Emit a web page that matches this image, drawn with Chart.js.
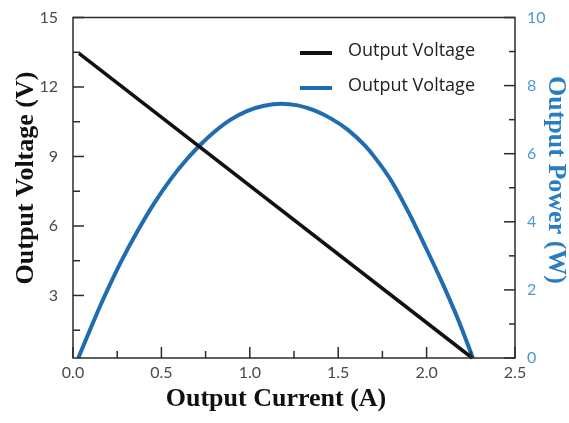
<!DOCTYPE html>
<html>
<head>
<meta charset="utf-8">
<script src="https://cdn.jsdelivr.net/npm/chart.js@4.4.1/dist/chart.umd.min.js"></script>
<style>
    html, body { margin: 0; padding: 0; background: #fff; }
    #wrap { width: 569px; height: 423px; }
</style>
</head>
<body>
<div id="wrap"><canvas id="ivChart" width="569" height="423"></canvas></div>
<script>
// Output voltage trace (black, left axis)
const voltageCurrent = [0.034, 2.258];
const voltageValues = [13.45, 0.3];

// Output power trace (blue, right axis)
const powerCurrent = [0.03, 0.097, 0.172, 0.267, 0.362, 0.456, 0.551, 0.646, 0.722, 0.797, 0.892, 0.987, 1.081, 1.176,
                      1.271, 1.365, 1.460, 1.555, 1.649, 1.706, 1.801, 1.896, 1.990, 2.085, 2.180, 2.262];
const powerValues = [0, 0.84, 1.74, 2.78, 3.70, 4.52, 5.24, 5.85, 6.27, 6.63, 7.00, 7.26, 7.41, 7.47,
                     7.42, 7.27, 7.03, 6.70, 6.25, 5.90, 5.20, 4.30, 3.30, 2.25, 1.11, 0];

// Tick labels and minor tick positions
const xTicks = [0, 0.5, 1.0, 1.5, 2.0, 2.5];
const xMinor = [0.25, 0.75, 1.25, 1.75, 2.25];
const leftTicks = [3, 6, 9, 12, 15];
const leftMinor = [1.5, 4.5, 7.5, 10.5, 13.5];
const rightTicks = [0, 2, 4, 6, 8, 10];
const rightMinor = [1, 3, 5, 7, 9];

const BLUE = '#1f6db0';
const LABEL_BLUE = '#4b9bd1';
const TICK_GREY = '#4a4a4a';

/**
 * Box around the plot with inward tick marks
 */
const frameTicks = {
    id: 'frameTicks',
    afterDatasetsDraw(chart) {
        const { ctx, chartArea: a, scales } = chart;
        ctx.save();
        ctx.strokeStyle = '#2b2b2b';
        ctx.lineWidth = 1.5;
        ctx.strokeRect(a.left, a.top, a.right - a.left, a.bottom - a.top);

        const mark = (x1, y1, x2, y2) => {
            ctx.beginPath();
            ctx.moveTo(x1, y1);
            ctx.lineTo(x2, y2);
            ctx.stroke();
        };
        xTicks.forEach(v => { const p = scales.x.getPixelForValue(v); mark(p, a.bottom, p, a.bottom - 11); });
        xMinor.forEach(v => { const p = scales.x.getPixelForValue(v); mark(p, a.bottom, p, a.bottom - 7); });
        leftTicks.forEach(v => { const p = scales.y.getPixelForValue(v); mark(a.left, p, a.left + 11, p); });
        leftMinor.forEach(v => { const p = scales.y.getPixelForValue(v); mark(a.left, p, a.left + 7, p); });
        rightTicks.forEach(v => { const p = scales.y1.getPixelForValue(v); mark(a.right, p, a.right - 11, p); });
        rightMinor.forEach(v => { const p = scales.y1.getPixelForValue(v); mark(a.right, p, a.right - 6, p); });
        ctx.restore();
    }
};

/**
 * In-plot legend, top right
 */
const insideLegend = {
    id: 'insideLegend',
    afterDraw(chart) {
        const { ctx, chartArea: a } = chart;
        ctx.save();
        ctx.font = '18px "Open Sans"';
        ctx.textBaseline = 'middle';
        chart.data.datasets.forEach((ds, i) => {
            const y = a.top + 35.5 + i * 35;
            ctx.strokeStyle = ds.borderColor;
            ctx.lineWidth = 4;
            ctx.beginPath();
            ctx.moveTo(a.right - 215, y);
            ctx.lineTo(a.right - 183, y);
            ctx.stroke();
            ctx.fillStyle = '#222';
            ctx.fillText(ds.label, a.right - 167, y - 2);
        });
        ctx.restore();
    }
};

/**
 * Axis titles (bold serif)
 */
const axisTitles = {
    id: 'axisTitles',
    afterDraw(chart) {
        const { ctx } = chart;
        ctx.save();
        ctx.font = 'bold 26px "Liberation Serif"';
        ctx.textAlign = 'center';
        ctx.textBaseline = 'alphabetic';

        ctx.fillStyle = '#111';
        ctx.fillText('Output Current (A)', 276, 406);

        ctx.save();
        ctx.translate(33, 178);
        ctx.rotate(-Math.PI / 2);
        ctx.fillText('Output Voltage (V)', 0, 0);
        ctx.restore();

        ctx.save();
        ctx.fillStyle = '#2a7dc0';
        ctx.translate(549, 180);
        ctx.rotate(Math.PI / 2);
        ctx.fillText('Output Power (W)', 0, 0);
        ctx.restore();

        ctx.restore();
    }
};

// Fixed axis sizes so the plot box lands where the reference has it
const fitVertical = width => s => {
    s.width = width;
    s.paddingTop = 0;
    s.paddingBottom = 0;
};

const canvas = document.getElementById('ivChart');
const ctx = canvas.getContext('2d');

const chart = new Chart(ctx, {
    type: 'line',
    data: {
        datasets: [
            {
                label: 'Output Voltage',
                data: voltageCurrent.map((x, i) => ({ x, y: voltageValues[i] })),
                yAxisID: 'y',
                borderColor: '#111',
                borderWidth: 3.5,
                pointRadius: 0,
                tension: 0,
                clip: 6
            },
            {
                label: 'Output Voltage',
                data: powerCurrent.map((x, i) => ({ x, y: powerValues[i] })),
                yAxisID: 'y1',
                borderColor: BLUE,
                borderWidth: 4,
                pointRadius: 0,
                cubicInterpolationMode: 'monotone',
                clip: 6
            }
        ]
    },
    options: {
        responsive: false,
        animation: false,
        devicePixelRatio: 1,
        layout: { padding: { top: 17.5 } },
        plugins: {
            legend: { display: false },
            tooltip: { enabled: false }
        },
        scales: {
            x: {
                type: 'linear',
                position: 'bottom',
                min: 0,
                max: 2.5,
                afterBuildTicks: s => { s.ticks = xTicks.map(v => ({ value: v })); },
                afterFit: s => { s.height = 65; },
                ticks: {
                    autoSkip: false,
                    maxRotation: 0,
                    padding: 5,
                    color: TICK_GREY,
                    font: { family: 'Lato', size: 16 },
                    callback: v => v.toFixed(1)
                },
                grid: { display: false, drawTicks: false },
                border: { display: false }
            },
            y: {
                type: 'linear',
                position: 'left',
                min: 0.3,
                max: 15,
                afterBuildTicks: s => { s.ticks = leftTicks.map(v => ({ value: v })); },
                afterFit: fitVertical(73),
                ticks: {
                    autoSkip: false,
                    padding: 15,
                    color: TICK_GREY,
                    font: { family: 'Lato', size: 16 },
                    callback: v => String(v)
                },
                grid: { display: false, drawTicks: false },
                border: { display: false }
            },
            y1: {
                type: 'linear',
                position: 'right',
                min: 0,
                max: 10,
                afterBuildTicks: s => { s.ticks = rightTicks.map(v => ({ value: v })); },
                afterFit: fitVertical(54),
                ticks: {
                    autoSkip: false,
                    padding: 12,
                    color: LABEL_BLUE,
                    font: { family: 'Lato', size: 16 },
                    callback: v => String(v)
                },
                grid: { display: false, drawTicks: false },
                border: { display: false }
            }
        }
    },
    plugins: [frameTicks, insideLegend, axisTitles]
});
</script>
</body>
</html>
